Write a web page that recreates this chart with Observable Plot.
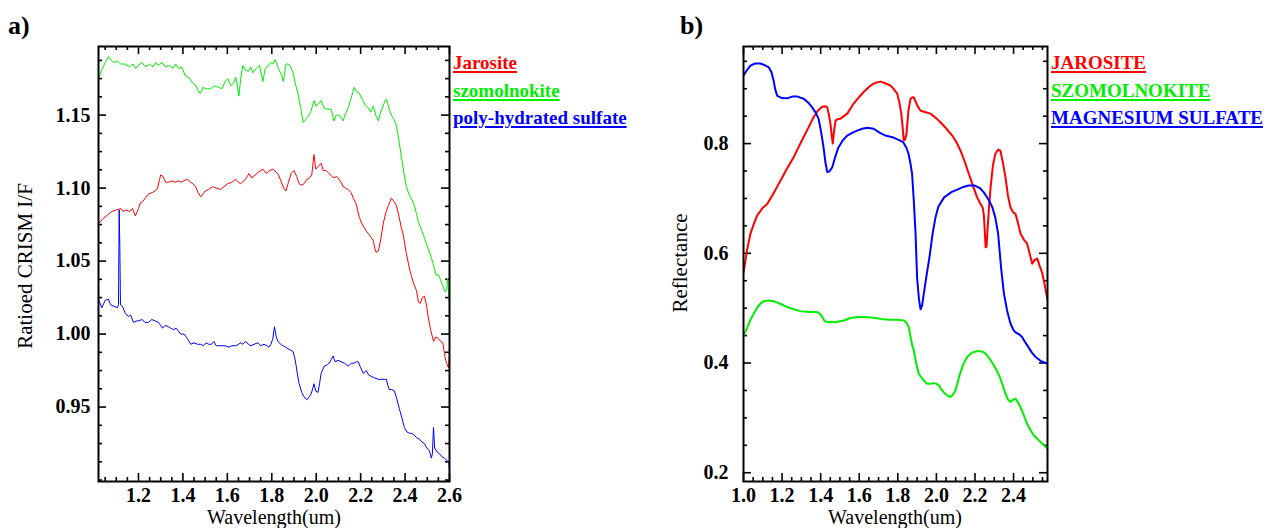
<!DOCTYPE html>
<html>
<head>
<meta charset="utf-8">
<script src="https://cdn.jsdelivr.net/npm/d3@7"></script>
<script src="https://cdn.jsdelivr.net/npm/@observablehq/plot@0.6"></script>
<style>
  html, body { margin: 0; padding: 0; background: #fff; }
  #root { position: relative; width: 1275px; height: 528px; overflow: hidden; font-family: "Liberation Serif", "DejaVu Serif", serif; }
  .panel { position: absolute; top: 0; }
  .lab { position: absolute; white-space: nowrap; line-height: 1; }
  .leg { position: absolute; white-space: nowrap; line-height: 1; font-weight: bold; font-size: 19px; text-decoration: underline; text-decoration-thickness: 1.5px; text-underline-offset: 2px; }
  .rot { transform: translate(-50%, -50%) rotate(-90deg); }
</style>
</head>
<body>
<div id="root"></div>
<script>
// ---------------- Panel a data (Ratioed CRISM I/F) ----------------
const aLegend = ["Jarosite", "szomolnokite", "poly-hydrated sulfate"];
const aColors = ["#ff0000", "#00ee00", "#0000ff"];
const aXTicks = [1.2, 1.4, 1.6, 1.8, 2.0, 2.2, 2.4, 2.6];
const aYTicks = [0.95, 1.00, 1.05, 1.10, 1.15];
const aXMinor = [1.05,1.1,1.15,1.25,1.3,1.35,1.45,1.5,1.55,1.65,1.7,1.75,1.85,1.9,1.95,2.05,2.1,2.15,2.25,2.3,2.35,2.45,2.5,2.55];
const aYMinor = [0.9,0.9125,0.925,0.9375,0.9625,0.975,0.9875,1.0125,1.025,1.0375,1.0625,1.075,1.0875,1.1125,1.125,1.1375,1.1625,1.175,1.1875];

const aJarosite = [[1.022,1.076],[1.04,1.079],[1.064,1.082],[1.08,1.084],[1.1,1.085],[1.12,1.086],[1.13,1.084],[1.145,1.085],[1.16,1.084],[1.173,1.086],[1.186,1.081],[1.2,1.086],[1.209,1.090],[1.22,1.091],[1.23,1.093],[1.245,1.096],[1.263,1.097],[1.275,1.098],[1.286,1.100],[1.295,1.106],[1.30,1.109],[1.31,1.108],[1.322,1.104],[1.335,1.104],[1.35,1.105],[1.365,1.104],[1.38,1.105],[1.39,1.104],[1.403,1.105],[1.42,1.106],[1.435,1.104],[1.445,1.103],[1.457,1.101],[1.468,1.097],[1.48,1.094],[1.49,1.096],[1.5,1.098],[1.515,1.099],[1.534,1.101],[1.55,1.100],[1.57,1.099],[1.585,1.101],[1.602,1.103],[1.62,1.104],[1.638,1.106],[1.65,1.104],[1.66,1.103],[1.675,1.105],[1.69,1.108],[1.697,1.110],[1.71,1.107],[1.725,1.109],[1.74,1.111],[1.76,1.113],[1.775,1.110],[1.79,1.112],[1.805,1.113],[1.819,1.111],[1.83,1.109],[1.841,1.105],[1.853,1.100],[1.864,1.098],[1.875,1.104],[1.887,1.110],[1.9,1.112],[1.912,1.108],[1.923,1.103],[1.935,1.102],[1.945,1.103],[1.958,1.106],[1.97,1.107],[1.98,1.109],[1.99,1.123],[1.998,1.113],[2.01,1.115],[2.022,1.117],[2.032,1.112],[2.045,1.112],[2.058,1.110],[2.07,1.108],[2.08,1.107],[2.092,1.108],[2.103,1.106],[2.112,1.104],[2.121,1.101],[2.133,1.100],[2.144,1.099],[2.157,1.097],[2.167,1.093],[2.18,1.089],[2.194,1.080],[2.205,1.076],[2.216,1.073],[2.228,1.070],[2.239,1.068],[2.248,1.066],[2.257,1.064],[2.265,1.058],[2.27,1.056],[2.28,1.057],[2.292,1.066],[2.302,1.076],[2.315,1.084],[2.325,1.088],[2.338,1.093],[2.35,1.091],[2.361,1.088],[2.372,1.081],[2.383,1.073],[2.392,1.068],[2.406,1.055],[2.418,1.046],[2.428,1.040],[2.44,1.034],[2.451,1.030],[2.46,1.022],[2.468,1.021],[2.478,1.025],[2.487,1.026],[2.496,1.020],[2.505,1.011],[2.515,1.003],[2.528,0.995],[2.538,0.998],[2.55,0.997],[2.56,0.995],[2.57,0.994],[2.58,0.984],[2.587,0.980],[2.595,0.977],[2.6,0.985]];

const aSzomolnokite = [[1.022,1.176],[1.035,1.181],[1.05,1.186],[1.065,1.190],[1.075,1.188],[1.09,1.186],[1.105,1.187],[1.12,1.185],[1.14,1.185],[1.16,1.183],[1.175,1.185],[1.186,1.182],[1.2,1.184],[1.215,1.186],[1.232,1.183],[1.25,1.185],[1.265,1.183],[1.277,1.186],[1.29,1.184],[1.305,1.186],[1.322,1.183],[1.34,1.184],[1.355,1.182],[1.367,1.185],[1.38,1.182],[1.395,1.183],[1.41,1.177],[1.425,1.176],[1.444,1.172],[1.46,1.170],[1.47,1.166],[1.48,1.165],[1.49,1.169],[1.505,1.168],[1.525,1.168],[1.54,1.170],[1.561,1.169],[1.575,1.168],[1.59,1.173],[1.602,1.175],[1.615,1.170],[1.628,1.172],[1.638,1.176],[1.645,1.170],[1.652,1.163],[1.66,1.175],[1.67,1.184],[1.68,1.181],[1.695,1.180],[1.705,1.183],[1.715,1.179],[1.73,1.182],[1.745,1.184],[1.76,1.173],[1.77,1.182],[1.78,1.183],[1.795,1.186],[1.805,1.185],[1.815,1.188],[1.83,1.182],[1.845,1.177],[1.852,1.173],[1.864,1.185],[1.875,1.185],[1.885,1.183],[1.896,1.179],[1.905,1.172],[1.918,1.165],[1.93,1.155],[1.941,1.145],[1.952,1.147],[1.963,1.149],[1.975,1.152],[1.99,1.160],[2.0,1.156],[2.01,1.158],[2.022,1.160],[2.035,1.155],[2.05,1.154],[2.067,1.154],[2.08,1.146],[2.09,1.150],[2.103,1.150],[2.112,1.148],[2.121,1.146],[2.132,1.151],[2.144,1.155],[2.158,1.162],[2.171,1.169],[2.183,1.166],[2.194,1.165],[2.21,1.160],[2.22,1.157],[2.234,1.155],[2.245,1.152],[2.257,1.156],[2.268,1.150],[2.28,1.146],[2.29,1.152],[2.305,1.158],[2.316,1.161],[2.327,1.155],[2.338,1.150],[2.35,1.147],[2.361,1.143],[2.372,1.133],[2.383,1.122],[2.395,1.110],[2.406,1.101],[2.417,1.096],[2.428,1.093],[2.442,1.088],[2.452,1.082],[2.46,1.077],[2.475,1.071],[2.487,1.066],[2.5,1.060],[2.51,1.056],[2.519,1.052],[2.53,1.046],[2.541,1.040],[2.55,1.041],[2.56,1.037],[2.57,1.033],[2.58,1.029],[2.587,1.030],[2.592,1.038],[2.598,1.025],[2.6,1.018]];

const aPolyHydrated = [[1.022,1.023],[1.035,1.018],[1.05,1.023],[1.064,1.024],[1.075,1.020],[1.09,1.019],[1.105,1.018],[1.11,1.020],[1.113,1.085],[1.116,1.060],[1.119,1.020],[1.128,1.019],[1.141,1.014],[1.155,1.012],[1.165,1.013],[1.177,1.008],[1.19,1.009],[1.2,1.009],[1.215,1.010],[1.23,1.008],[1.245,1.008],[1.26,1.010],[1.275,1.009],[1.29,1.008],[1.3,1.006],[1.308,1.004],[1.32,1.006],[1.335,1.005],[1.345,1.004],[1.358,1.003],[1.37,1.004],[1.38,1.002],[1.39,1.0],[1.405,1.0],[1.42,0.997],[1.435,0.993],[1.45,0.994],[1.466,0.993],[1.48,0.993],[1.492,0.992],[1.505,0.994],[1.516,0.993],[1.528,0.993],[1.539,0.995],[1.55,0.992],[1.57,0.992],[1.59,0.992],[1.607,0.991],[1.62,0.992],[1.638,0.992],[1.65,0.993],[1.66,0.994],[1.67,0.993],[1.683,0.995],[1.695,0.993],[1.706,0.992],[1.72,0.993],[1.737,0.994],[1.75,0.992],[1.765,0.993],[1.778,0.992],[1.787,0.991],[1.796,0.993],[1.805,0.997],[1.812,1.005],[1.82,0.998],[1.828,0.995],[1.84,0.993],[1.85,0.992],[1.862,0.991],[1.873,0.990],[1.885,0.989],[1.896,0.988],[1.903,0.984],[1.909,0.979],[1.916,0.972],[1.923,0.966],[1.935,0.960],[1.945,0.957],[1.959,0.955],[1.968,0.957],[1.977,0.959],[1.985,0.963],[1.99,0.966],[1.998,0.961],[2.008,0.960],[2.015,0.966],[2.022,0.973],[2.036,0.978],[2.05,0.979],[2.062,0.981],[2.076,0.985],[2.085,0.981],[2.098,0.982],[2.112,0.981],[2.128,0.980],[2.144,0.978],[2.158,0.980],[2.17,0.980],[2.18,0.981],[2.189,0.981],[2.2,0.977],[2.212,0.973],[2.225,0.975],[2.236,0.972],[2.248,0.971],[2.262,0.970],[2.28,0.969],[2.295,0.969],[2.306,0.969],[2.316,0.969],[2.322,0.965],[2.329,0.962],[2.34,0.962],[2.352,0.961],[2.362,0.956],[2.374,0.949],[2.385,0.943],[2.397,0.936],[2.408,0.933],[2.42,0.932],[2.43,0.932],[2.44,0.931],[2.452,0.929],[2.465,0.928],[2.476,0.926],[2.487,0.925],[2.498,0.922],[2.51,0.920],[2.518,0.915],[2.523,0.918],[2.528,0.936],[2.533,0.922],[2.545,0.919],[2.555,0.918],[2.566,0.916],[2.578,0.915],[2.59,0.913],[2.597,0.912],[2.6,0.906]];

// ---------------- Panel b data (library Reflectance) ----------------
const bLegend = ["JAROSITE", "SZOMOLNOKITE", "MAGNESIUM SULFATE"];
const bColors = ["#ff0000", "#00ee00", "#0000ff"];
const bXTicks = [1.0, 1.2, 1.4, 1.6, 1.8, 2.0, 2.2, 2.4];
const bYTicks = [0.2, 0.4, 0.6, 0.8];
const bXMinor = [1.05,1.1,1.15,1.25,1.3,1.35,1.45,1.5,1.55,1.65,1.7,1.75,1.85,1.9,1.95,2.05,2.1,2.15,2.25,2.3,2.35,2.45,2.5,2.55];
const bYMinor = [0.25,0.3,0.35,0.45,0.5,0.55,0.65,0.7,0.75,0.85,0.9,0.95];

const bJarosite = [[1.0,0.565],[1.018,0.605],[1.036,0.636],[1.055,0.655],[1.071,0.669],[1.1,0.683],[1.123,0.69],[1.16,0.712],[1.192,0.7326],[1.225,0.754],[1.26,0.775],[1.285,0.793],[1.311,0.8115],[1.338,0.830],[1.363,0.848],[1.385,0.860],[1.408,0.867],[1.425,0.868],[1.434,0.866],[1.443,0.852],[1.451,0.836],[1.457,0.815],[1.463,0.800],[1.469,0.822],[1.477,0.842],[1.49,0.845],[1.503,0.8455],[1.52,0.850],[1.538,0.8546],[1.565,0.870],[1.59,0.881],[1.625,0.895],[1.658,0.9056],[1.685,0.911],[1.71,0.913],[1.735,0.910],[1.762,0.9056],[1.78,0.899],[1.797,0.891],[1.808,0.875],[1.818,0.8546],[1.825,0.830],[1.831,0.8055],[1.838,0.808],[1.845,0.818],[1.855,0.860],[1.866,0.882],[1.875,0.884],[1.883,0.8843],[1.9,0.870],[1.918,0.86],[1.945,0.857],[1.969,0.8546],[2.0,0.846],[2.021,0.839],[2.05,0.828],[2.082,0.8146],[2.105,0.802],[2.125,0.787],[2.148,0.766],[2.168,0.745],[2.19,0.723],[2.211,0.702],[2.229,0.69],[2.24,0.683],[2.246,0.670],[2.251,0.640],[2.255,0.611],[2.26,0.612],[2.264,0.636],[2.272,0.680],[2.281,0.720],[2.293,0.760],[2.306,0.782],[2.32,0.789],[2.332,0.787],[2.345,0.765],[2.358,0.739],[2.371,0.705],[2.384,0.684],[2.397,0.675],[2.41,0.672],[2.423,0.655],[2.436,0.636],[2.453,0.625],[2.47,0.618],[2.483,0.600],[2.497,0.581],[2.51,0.588],[2.523,0.5905],[2.535,0.577],[2.548,0.565],[2.56,0.545],[2.576,0.515]];

const bSzomolnokite = [[1.0,0.45],[1.02,0.465],[1.035,0.478],[1.053,0.49],[1.075,0.503],[1.09,0.509],[1.105,0.5128],[1.13,0.514],[1.157,0.5128],[1.19,0.508],[1.227,0.502],[1.26,0.498],[1.295,0.4946],[1.34,0.493],[1.382,0.493],[1.395,0.490],[1.408,0.484],[1.42,0.477],[1.434,0.4745],[1.455,0.475],[1.477,0.4745],[1.5,0.476],[1.52,0.4776],[1.555,0.482],[1.59,0.484],[1.63,0.484],[1.676,0.4827],[1.72,0.480],[1.762,0.479],[1.8,0.479],[1.831,0.4776],[1.845,0.473],[1.857,0.4654],[1.865,0.450],[1.875,0.432],[1.883,0.423],[1.895,0.40],[1.909,0.380],[1.93,0.370],[1.952,0.362],[1.97,0.362],[1.987,0.3634],[2.0,0.362],[2.013,0.359],[2.025,0.352],[2.038,0.347],[2.055,0.341],[2.073,0.338],[2.085,0.342],[2.099,0.350],[2.112,0.367],[2.125,0.3834],[2.14,0.398],[2.16,0.411],[2.185,0.419],[2.211,0.4217],[2.235,0.421],[2.255,0.417],[2.278,0.407],[2.298,0.3956],[2.315,0.385],[2.332,0.3714],[2.345,0.358],[2.358,0.344],[2.37,0.334],[2.384,0.329],[2.397,0.333],[2.41,0.335],[2.423,0.328],[2.436,0.3197],[2.453,0.305],[2.47,0.2894],[2.488,0.278],[2.505,0.268],[2.52,0.263],[2.54,0.256],[2.558,0.25],[2.576,0.244]];

const bMagnesiumSulfate = [[1.0,0.924],[1.02,0.935],[1.036,0.942],[1.06,0.946],[1.088,0.946],[1.11,0.943],[1.131,0.939],[1.145,0.930],[1.156,0.915],[1.165,0.898],[1.175,0.887],[1.2,0.883],[1.227,0.8825],[1.255,0.886],[1.278,0.886],[1.3,0.883],[1.311,0.882],[1.335,0.875],[1.356,0.866],[1.375,0.856],[1.389,0.8455],[1.402,0.822],[1.415,0.793],[1.425,0.765],[1.434,0.748],[1.445,0.749],[1.46,0.757],[1.475,0.775],[1.492,0.793],[1.515,0.806],[1.538,0.8146],[1.565,0.820],[1.59,0.8237],[1.615,0.827],[1.641,0.829],[1.675,0.827],[1.705,0.820],[1.736,0.8146],[1.777,0.811],[1.81,0.806],[1.829,0.802],[1.845,0.792],[1.855,0.782],[1.865,0.765],[1.874,0.745],[1.883,0.695],[1.892,0.636],[1.9,0.555],[1.91,0.515],[1.918,0.498],[1.926,0.505],[1.935,0.527],[1.95,0.562],[1.965,0.595],[1.98,0.635],[1.995,0.665],[2.01,0.685],[2.04,0.702],[2.08,0.712],[2.108,0.716],[2.14,0.721],[2.166,0.7235],[2.2,0.7235],[2.225,0.719],[2.246,0.711],[2.27,0.698],[2.29,0.684],[2.305,0.666],[2.32,0.636],[2.335,0.575],[2.35,0.527],[2.367,0.495],[2.384,0.472],[2.4,0.460],[2.41,0.456],[2.43,0.452],[2.445,0.447],[2.46,0.438],[2.477,0.429],[2.495,0.419],[2.514,0.411],[2.54,0.404],[2.566,0.400],[2.576,0.399]];

// ---------------- drawing ----------------
function panel(cfg) {
  const {width, height, mL, mR, mT, mB} = cfg;
  const iw = width - mL - mR, ih = height - mT - mB;
  const maj = 8, mnr = 4;
  const marks = [
    Plot.tickX(cfg.xTicks, {x: d => d, insetTop: ih - maj, stroke: "black", strokeWidth: 1.6}),
    Plot.tickX(cfg.xTicks, {x: d => d, insetBottom: ih - maj, stroke: "black", strokeWidth: 1.6}),
    Plot.tickX(cfg.xMinor, {x: d => d, insetTop: ih - mnr, stroke: "black", strokeWidth: 1.6}),
    Plot.tickX(cfg.xMinor, {x: d => d, insetBottom: ih - mnr, stroke: "black", strokeWidth: 1.6}),
    Plot.tickY(cfg.yTicks, {y: d => d, insetRight: iw - maj, stroke: "black", strokeWidth: 1.6}),
    Plot.tickY(cfg.yTicks, {y: d => d, insetLeft: iw - maj, stroke: "black", strokeWidth: 1.6}),
    Plot.tickY(cfg.yMinor, {y: d => d, insetRight: iw - mnr, stroke: "black", strokeWidth: 1.6}),
    Plot.tickY(cfg.yMinor, {y: d => d, insetLeft: iw - mnr, stroke: "black", strokeWidth: 1.6}),
    Plot.axisX({ticks: cfg.xTicks, tickSize: 0, tickPadding: 6, tickFormat: d3.format(".1f"), label: null}),
    Plot.axisY({ticks: cfg.yTicks, tickSize: 0, tickPadding: cfg.yPad, tickFormat: d3.format(cfg.yFmt), label: null}),
    ...cfg.series.map((s, i) => Plot.line(s, {x: d => d[0], y: d => d[1], stroke: cfg.colors[i], strokeWidth: cfg.lw, clip: true})),
    Plot.frame({stroke: "black", strokeWidth: 2})
  ];
  return Plot.plot({
    width, height,
    marginLeft: mL, marginRight: mR, marginTop: mT, marginBottom: mB,
    x: {domain: cfg.xDomain},
    y: {domain: cfg.yDomain},
    style: {fontFamily: "Liberation Serif, serif", fontSize: "20px", fontWeight: "bold", color: "black", background: "transparent", overflow: "visible"},
    marks
  });
}

const root = document.getElementById("root");

const pa = panel({
  width: 640, height: 528, mL: 98, mR: 191, mT: 46, mB: 47,
  xDomain: [1.02, 2.6], yDomain: [0.899, 1.197],
  xTicks: aXTicks, yTicks: aYTicks, xMinor: aXMinor, yMinor: aYMinor,
  yPad: 8, yFmt: ".2f", lw: 1,
  series: [aJarosite, aSzomolnokite, aPolyHydrated], colors: aColors
});
const pb = panel({
  width: 635, height: 528, mL: 103, mR: 228, mT: 46, mB: 47,
  xDomain: [1.0, 2.576], yDomain: [0.184, 0.977],
  xTicks: bXTicks, yTicks: bYTicks, xMinor: bXMinor, yMinor: bYMinor,
  yPad: 15, yFmt: ".1f", lw: 2,
  series: [bJarosite, bSzomolnokite, bMagnesiumSulfate], colors: bColors
});

function place(el, left) {
  const d = document.createElement("div");
  d.className = "panel";
  d.style.left = left + "px";
  d.appendChild(el);
  root.appendChild(d);
}
place(pa, 0);
place(pb, 640);

function label(text, css, cls) {
  const d = document.createElement("div");
  d.className = cls || "lab";
  d.textContent = text;
  Object.assign(d.style, css);
  root.appendChild(d);
  return d;
}

// panel tags
label("a)", {left: "8px", top: "13px", fontSize: "26px", fontWeight: "bold"});
label("b)", {left: "680px", top: "13px", fontSize: "26px", fontWeight: "bold"});

// axis titles
label("Wavelength(um)", {left: "274px", top: "507px", fontSize: "20px", transform: "translateX(-50%)"});
label("Wavelength(um)", {left: "895px", top: "507px", fontSize: "20px", transform: "translateX(-50%)"});
label("Ratioed CRISM I/F", {left: "25px", top: "266px", fontSize: "21px"}, "lab rot");
label("Reflectance", {left: "680px", top: "263px", fontSize: "21px"}, "lab rot");

// legends
const legTops = [53, 81, 108];
aLegend.forEach((t, i) => label(t, {left: "453px", top: legTops[i] + "px", color: aColors[i]}, "leg"));
bLegend.forEach((t, i) => label(t, {left: "1051px", top: legTops[i] + "px", color: bColors[i]}, "leg"));
</script>
</body>
</html>
